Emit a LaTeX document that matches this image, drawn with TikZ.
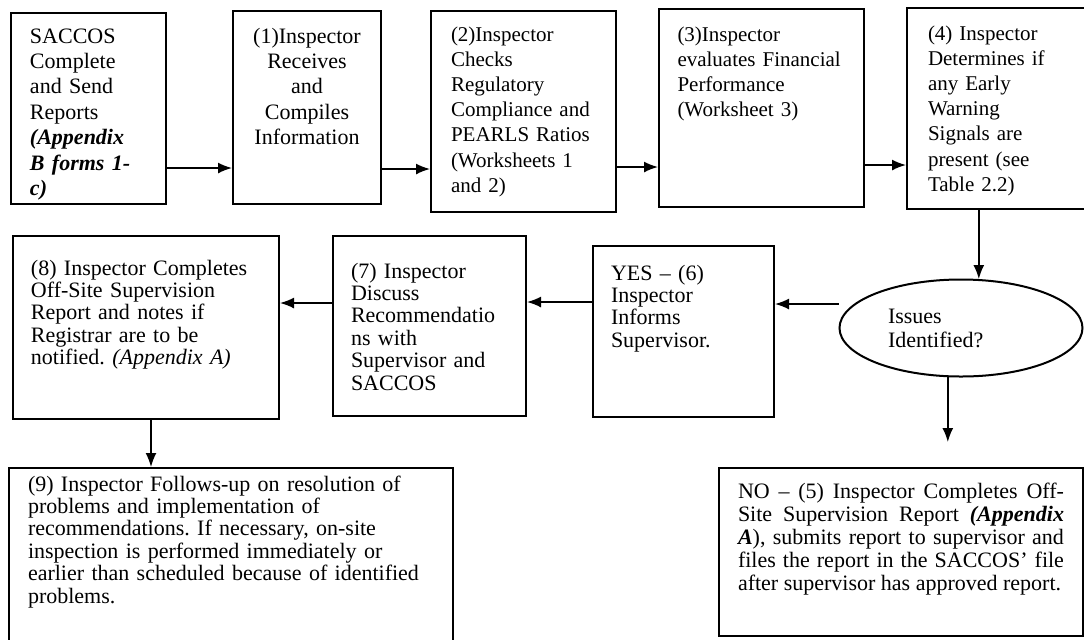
\documentclass[tikz,border=0pt]{standalone}
\usepackage{fontspec}
\setmainfont{Liberation Serif}
\usetikzlibrary{arrows.meta,shapes.geometric}
\frenchspacing
\hyphenpenalty=10000
\begin{document}
\begin{tikzpicture}[x=0.5pt,y=-0.5pt,
  stepbox/.style={draw,line width=1pt,anchor=north west,align=left,inner ysep=0pt,
    font=\fontsize{11}{12.7}\selectfont},
  narrowbox/.style={stepbox,font=\fontsize{10.5}{12.6}\selectfont},
  lowbox/.style={stepbox,font=\fontsize{11}{11.2}\selectfont},
  arr/.style={line width=0.8pt,-{Latex[length=7pt,width=5.5pt]}}]
  \useasboundingbox (0,0) rectangle (1084,639);
  \clip (0,0) rectangle (1084,639);
  % top row
  \node[stepbox,text width=58.5pt,inner xsep=9.5pt,text height=15pt,text depth=80.5pt] (sac) at (10,12)
    {SACCOS\\Complete\\and Send\\Reports\\\textbf{\textit{(Appendix}}\\\textbf{\textit{B forms 1-}}\\\textbf{\textit{c)}}};
  \node[stepbox,align=center,text width=64pt,inner xsep=5pt,text height=16pt,text depth=80.5pt] (rec) at (232,10)
    {(1)Inspector\\Receives\\and\\Compiles\\Information};
  \node[narrowbox,text width=72.5pt,inner xsep=10pt,text height=15pt,text depth=85.5pt] (chk) at (430,10)
    {(2)Inspector\\Checks\\Regulatory\\Compliance and\\PEARLS Ratios\\(Worksheets 1\\and 2)};
  \node[narrowbox,text width=84pt,inner xsep=9.25pt,text height=16pt,text depth=83pt] (eva) at (658,8)
    {(3)Inspector\\evaluates Financial\\Performance\\(Worksheet 3)};
  \node[narrowbox,text width=69pt,inner xsep=10.5pt,text height=16pt,text depth=84.5pt] (det) at (906,7)
    {(4) Inspector\\Determines if\\any Early\\Warning\\Signals are\\present (see\\Table 2.2)};
  % middle row
  \node[draw,ellipse,line width=1pt,minimum width=121.5pt,minimum height=48.5pt,inner sep=0pt,
    text width=73pt,align=left,font=\fontsize{11}{12}\selectfont] (iss) at (961,328) {Issues\\Identified?};
  \node[lowbox,text width=72.5pt,inner xsep=9pt,text height=17pt,text depth=68.5pt] (yes) at (592,245)
    {YES -- (6)\\Inspector\\Informs\\Supervisor.};
  \node[lowbox,text width=78.5pt,inner xsep=9pt,text height=21pt,text depth=69pt] (dis) at (332,235)
    {(7) Inspector\\Discuss\\Recommendatio\\ns with\\Supervisor and\\SACCOS};
  \node[lowbox,text width=115pt,inner xsep=9pt,text height=19.5pt,text depth=72pt] (fin) at (12,235)
    {(8) Inspector Completes\\Off-Site Supervision\\Report and notes if\\Registrar are to be\\notified. \textit{(Appendix A)}};
  % bottom row
  \node[lowbox,text width=203pt,inner xsep=9.5pt,text height=11.5pt,text depth=77.5pt] (fol) at (8,467)
    {(9) Inspector Follows-up on resolution of\\problems and implementation of\\recommendations. If necessary, on-site\\inspection is performed immediately or\\earlier than scheduled because of identified\\problems.};
  \node[stepbox,align=justify,font=\fontsize{11}{11.5}\selectfont,text width=163pt,inner xsep=9.5pt,text height=15pt,text depth=69pt] (no) at (718,467)
    {NO -- (5) Inspector Completes Off-\linebreak Site Supervision Report \textbf{\textit{(Appendix}}\linebreak \textbf{\textit{A}}), submits report to supervisor and\linebreak files the report in the SACCOS' file\linebreak after supervisor has approved report.};
  \coordinate (notip) at (iss.255 |- 0,442);
  % connectors
  \draw[arr] (sac.east |- 0,168) -- (rec.west |- 0,168);
  \draw[arr] (rec.east |- 0,169) -- (chk.west |- 0,169);
  \draw[arr] (chk.east |- 0,167) -- (eva.west |- 0,167);
  \draw[arr] (eva.east |- 0,165) -- (det.west |- 0,165);
  \draw[arr] (det.south -| iss.70) -- (iss.70);
  \draw[arr] (iss.west |- 0,304) -- (yes.east |- 0,304);
  \draw[arr] (yes.west |- 0,302) -- (dis.east |- 0,302);
  \draw[arr] (dis.west |- 0,303) -- (fin.east |- 0,303);
  \draw[arr] (fin.south -| 151,0) -- (fol.north -| 151,0);
  \draw[arr] (iss.255) -- (notip);
\end{tikzpicture}
\end{document}
